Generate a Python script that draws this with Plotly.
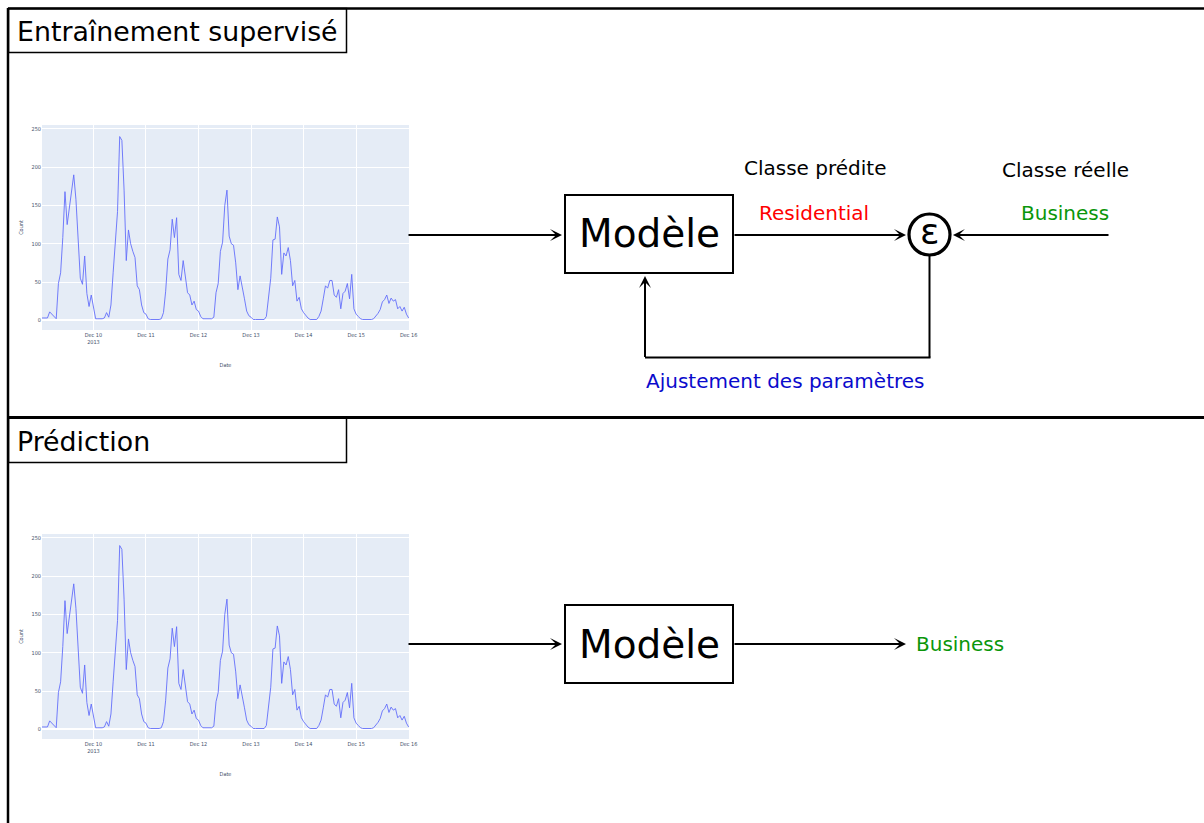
import pandas as pd
import plotly.graph_objects as go

W, H = 1204, 823

# ---------------- data (hourly counts) ----------------
dec09 = [3, 3, 3, 3, 11, 8, 5, 2, 48, 62, 108, 168, 125, 148, 172, 190, 158, 112, 55, 47, 84, 35, 18, 33]
dec10 = [18, 2, 2, 2, 2, 3, 10, 4, 20, 62, 100, 142, 240, 235, 170, 78, 118, 100, 90, 82, 45, 40, 20, 10]
dec11 = [8, 2, 1, 1, 1, 1, 1, 2, 10, 38, 80, 92, 132, 108, 134, 60, 52, 78, 58, 36, 33, 20, 25, 14]
dec12 = [12, 5, 2, 2, 2, 2, 2, 4, 36, 48, 90, 102, 150, 170, 110, 100, 98, 75, 40, 58, 45, 28, 12, 6]
dec13 = [4, 1, 1, 1, 1, 1, 1, 5, 30, 55, 105, 106, 135, 122, 60, 88, 84, 95, 78, 45, 52, 25, 30, 15]
dec14 = [10, 6, 3, 1, 1, 1, 1, 5, 12, 28, 45, 42, 52, 52, 33, 30, 40, 15, 35, 38, 48, 28, 60, 15]
dec15 = [8, 5, 2, 1, 1, 1, 1, 1, 2, 5, 9, 14, 24, 27, 33, 22, 29, 25, 27, 15, 18, 12, 17, 8]
dec16 = [3]
counts = dec09 + dec10 + dec11 + dec12 + dec13 + dec14 + dec15 + dec16
times = pd.date_range("2013-12-09 00:00", periods=len(counts), freq="h")

title_train = "Entraînement supervisé"
title_pred = "Prédiction"
model_label = "Modèle"
label_pred_head = "Classe prédite"
label_pred_val = "Residential"
label_true_head = "Classe réelle"
label_true_val = "Business"
label_feedback = "Ajustement des paramètres"
label_out = "Business"
eps = "ε"

# ---------------- helpers: pixel -> paper ----------------
def PX(x):
    return x / W

def PY(y):
    return 1 - y / H

FONT = "DejaVu Sans"
fig = go.Figure()

# ---------------- small time-series charts ----------------
mini = [("x2", "y2", 125, 330), ("x3", "y3", 534, 739)]
for xa, ya, top, bot in mini:
    fig.add_trace(go.Scatter(x=times, y=counts, mode="lines",
                             line=dict(color="#636efa", width=0.9),
                             xaxis=xa, yaxis=ya, showlegend=False, hoverinfo="skip"))

tickfont = dict(family="DejaVu Sans Condensed, Liberation Sans Narrow, sans-serif", size=5.5, color="#3f4f6a")
for i, (xa, ya, top, bot) in enumerate(mini):
    xk = "xaxis" + xa[1:]
    yk = "yaxis" + ya[1:]
    fig.layout[xk] = dict(domain=[PX(42), PX(409)], anchor=ya, automargin=False,
                          range=["2013-12-09 00:30", "2013-12-16 00:10"],
                          type="date", dtick=86400000, tick0="2013-12-10",
                          showgrid=True, gridcolor="white", gridwidth=1,
                          zeroline=False, showline=False, ticks="",
                          tickfont=tickfont,
                          title=dict(text="Date", font=tickfont, standoff=19))
    fig.layout[yk] = dict(domain=[PY(bot), PY(top)], anchor=xa, automargin=False,
                          range=[-12.7, 255.1], dtick=50, tick0=0,
                          showgrid=True, gridcolor="white", gridwidth=1,
                          zeroline=True, zerolinecolor="white", zerolinewidth=2,
                          showline=False, ticks="",
                          tickfont=tickfont,
                          title=dict(text="Count", font=tickfont, standoff=7))
    fig.add_shape(type="rect", xref=xa + " domain", yref=ya + " domain",
                  x0=0, x1=1, y0=0, y1=1, fillcolor="#e5ecf6", line=dict(width=0),
                  layer="below")


def line(x0, y0, x1, y1, w=2, color="black"):
    fig.add_shape(type="line", xref="paper", yref="paper",
                  x0=PX(x0), y0=PY(y0), x1=PX(x1), y1=PY(y1),
                  line=dict(color=color, width=w))

def rect(x0, y0, x1, y1, w=2):
    fig.add_shape(type="rect", xref="paper", yref="paper",
                  x0=PX(x0), y0=PY(y0), x1=PX(x1), y1=PY(y1),
                  line=dict(color="black", width=w), fillcolor="rgba(0,0,0,0)")

def text(x, y, s, size, color="black", xanchor="center"):
    fig.add_annotation(x=PX(x), y=PY(y), xref="paper", yref="paper", text=s,
                       showarrow=False, xanchor=xanchor, yanchor="middle",
                       font=dict(family=FONT, size=size, color=color))

def arrow(x0, y0, x1, y1, w=2):
    fig.add_annotation(x=PX(x1), y=PY(y1), xref="paper", yref="paper",
                       ax=x0 - x1, ay=y0 - y1, axref="pixel", ayref="pixel",
                       text="", showarrow=True, arrowhead=3, arrowsize=1,
                       arrowwidth=w, arrowcolor="black", standoff=0)

# outer frame
line(8, 8.5, 1204, 8.5, w=2.5)
line(8, 8, 8, 823, w=2.5)
line(8, 417.5, 1204, 417.5, w=3)

# title boxes
rect(8.5, 8.5, 346.5, 52.5, w=1.5)
rect(8.5, 417.5, 346.5, 462.5, w=1.5)
text(14.5, 32, title_train, 26.8, xanchor="left")
text(14.5, 441, title_pred, 26.8, xanchor="left")

# ---- training diagram ----
rect(565, 195, 733, 273, w=2)
text(649, 234, model_label, 39)
arrow(407, 235, 562, 235)
arrow(733, 235, 906, 235)
fig.add_shape(type="circle", xref="paper", yref="paper",
              x0=PX(909), x1=PX(950), y0=PY(214), y1=PY(255),
              line=dict(color="black", width=3.2))
text(929.5, 231, eps, 36)
arrow(1110, 235, 953, 235)
line(929.5, 256, 929.5, 357.5)
line(645, 357.5, 930.5, 357.5)
arrow(645, 358.5, 645, 276)

text(815, 168, label_pred_head, 20)
text(814, 213, label_pred_val, 20, color="#ff0000")
text(1065, 170, label_true_head, 20)
text(1065, 213, label_true_val, 20, color="#0a960a")
text(785, 381, label_feedback, 20, color="#0a0acc")

# ---- prediction diagram ----
rect(565, 605, 733, 683, w=2)
text(649, 644, model_label, 39)
arrow(407, 644, 562, 644)
arrow(733, 644, 906, 644)
text(960, 644, label_out, 20, color="#0a960a")

fig.update_layout(width=W, height=H,
                  margin=dict(l=0, r=0, t=0, b=0, pad=0, autoexpand=False),
                  paper_bgcolor="white", plot_bgcolor="rgba(0,0,0,0)",
                  showlegend=False, font=dict(family=FONT))

post = """
document.body.style.margin='0px';
document.body.style.overflow='hidden';
"""
fig.write_html("out.html", config={"responsive": False, "displayModeBar": False},
               post_script=post)
